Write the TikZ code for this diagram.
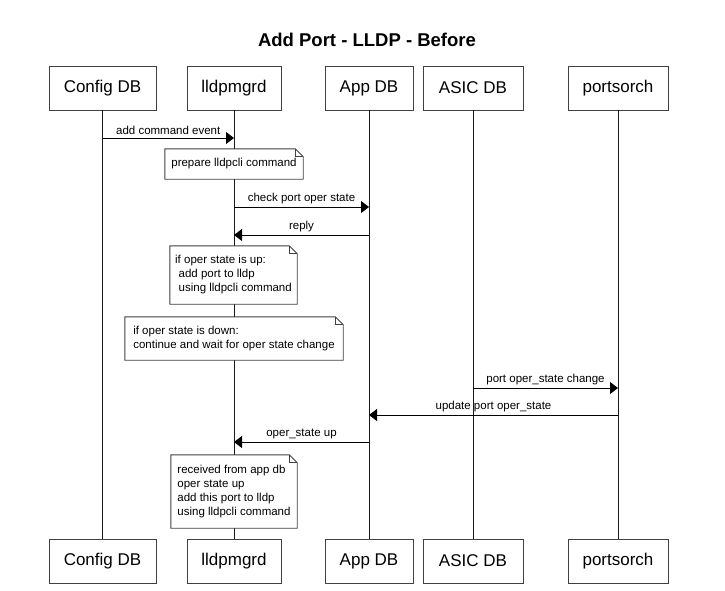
\documentclass[tikz,border=0pt]{standalone}
\usepackage{fontspec}
\setmainfont{Liberation Sans}
\usetikzlibrary{arrows.meta}
\newcommand\notefold[1]{%
  \draw[notedraw] (#1.north west) -- ([xshift=-8pt]#1.north east) -- ([yshift=-8pt]#1.north east) -- (#1.south east) -- (#1.south west) -- cycle;
  \draw[notedraw] ([xshift=-8pt]#1.north east) |- ([yshift=-8pt]#1.north east);}
\begin{document}
\begin{tikzpicture}[x=1pt,y=-1pt,
  actor/.style={draw=black!75, fill=white, line width=0.9pt, minimum height=44pt, inner sep=0pt, font=\fontsize{17}{20}\selectfont},
  life/.style={draw=black!90, line width=0.9pt},
  msg/.style={draw=black, line width=0.9pt, -{Triangle[length=8pt,width=12pt]}},
  lbl/.style={above, inner sep=2.5pt, font=\fontsize{11.5}{14}\selectfont},
  notebox/.style={fill=white, inner xsep=5pt, inner ysep=0pt, align=left, font=\fontsize{11.5}{14}\selectfont},
  notedraw/.style={draw=black!75, line width=0.9pt},
]
\useasboundingbox (0,0) rectangle (725,590);
\fill[white] (0,0) rectangle (725,590);

\node[font=\bfseries\fontsize{18.5}{22}\selectfont] (title) at (367,40) {Add Port - LLDP - Before};

% actors top
\node[actor, minimum width=107pt] (cfgT) at (102.5,88) {Config DB};
\node[actor, minimum width=94pt]  (lldT) at (234,88) {lldpmgrd};
\node[actor, minimum width=88pt]  (appT) at (369,88) {App DB};
\node[actor, minimum width=100pt] (asicT) at (473,88) {ASIC DB};
\node[actor, minimum width=100pt] (portT) at (618,88) {portsorch};
% actors bottom
\node[actor, minimum width=107pt] (cfgB) at (102.5,561) {Config DB};
\node[actor, minimum width=94pt]  (lldB) at (234,561) {lldpmgrd};
\node[actor, minimum width=88pt]  (appB) at (369,561) {App DB};
\node[actor, minimum width=100pt] (asicB) at (473,561) {ASIC DB};
\node[actor, minimum width=100pt] (portB) at (618,561) {portsorch};

% lifelines
\draw[life] (cfgT.south) -- (cfgB.north);
\draw[life] (lldT.south) -- (lldB.north);
\draw[life] (appT.south) -- (appB.north);
\draw[life] (asicT.south) -- (asicB.north);
\draw[life] (portT.south) -- (portB.north);

% message rows
\coordinate (r1) at (0,138);
\coordinate (r2) at (0,207);
\coordinate (r3) at (0,235);
\coordinate (r4) at (0,388);
\coordinate (r5) at (0,415);
\coordinate (r6) at (0,442);

\draw[msg] (cfgT |- r1) -- node[lbl]{add command event} (lldT |- r1);
\draw[msg] (lldT |- r2) -- node[lbl]{check port oper state} (appT |- r2);
\draw[msg] (appT |- r3) -- node[lbl]{reply} (lldT |- r3);
\draw[msg] (asicT |- r4) -- node[lbl]{port oper\_state change} (portT |- r4);
\draw[msg] (portT |- r5) -- node[lbl]{update port oper\_state} (appT |- r5);
\draw[msg] (appT |- r6) -- node[lbl]{oper\_state up} (lldT |- r6);

% notes
\node[notebox, minimum width=138pt, minimum height=30pt] (n1) at (234,164) {prepare lldpcli command};
\notefold{n1}
\node[notebox, minimum width=127pt, minimum height=58pt] (n2) at (233.5,275)
  {if oper state is up:\\\hspace*{3.5pt}add port to lldp\\\hspace*{3.5pt}using lldpcli command};
\notefold{n2}
\node[notebox, minimum width=218pt, minimum height=43pt] (n3) at (234,338.5)
  {if oper state is down:\\continue and wait for oper state change};
\notefold{n3}
\node[notebox, minimum width=126pt, minimum height=73pt] (n4) at (234,491.5)
  {received from app db\\oper state up\\add this port to lldp\\using lldpcli command};
\notefold{n4}
\end{tikzpicture}
\end{document}
